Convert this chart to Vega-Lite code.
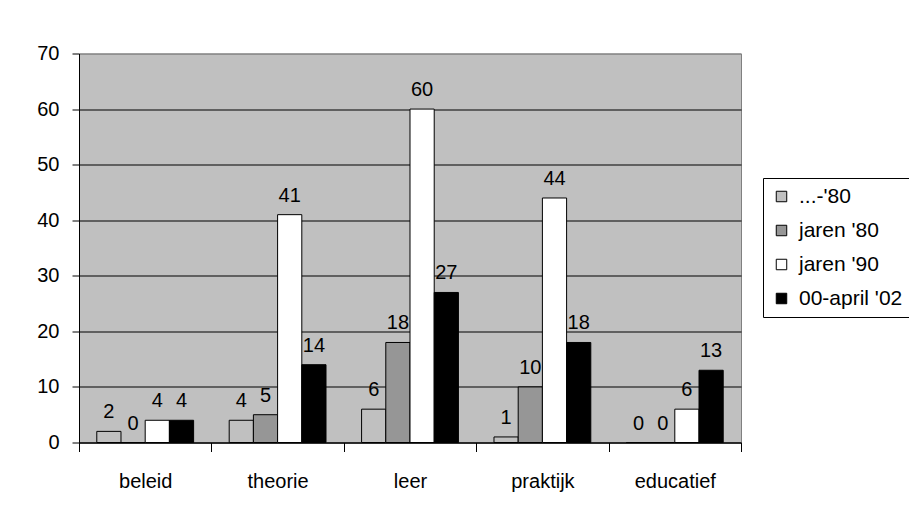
{
  "$schema": "https://vega.github.io/schema/vega-lite/v6.json",
  "width": 662,
  "height": 389,
  "autosize": {"type": "none"},
  "padding": {"left": 79, "top": 53.5, "right": 168, "bottom": 68.5},
  "background": "white",
  "data": {
    "values": [
      {"category": "beleid", "series": "...-'80", "value": 2},
      {"category": "beleid", "series": "jaren '80", "value": 0},
      {"category": "beleid", "series": "jaren '90", "value": 4},
      {"category": "beleid", "series": "00-april '02", "value": 4},
      {"category": "theorie", "series": "...-'80", "value": 4},
      {"category": "theorie", "series": "jaren '80", "value": 5},
      {"category": "theorie", "series": "jaren '90", "value": 41},
      {"category": "theorie", "series": "00-april '02", "value": 14},
      {"category": "leer", "series": "...-'80", "value": 6},
      {"category": "leer", "series": "jaren '80", "value": 18},
      {"category": "leer", "series": "jaren '90", "value": 60},
      {"category": "leer", "series": "00-april '02", "value": 27},
      {"category": "praktijk", "series": "...-'80", "value": 1},
      {"category": "praktijk", "series": "jaren '80", "value": 10},
      {"category": "praktijk", "series": "jaren '90", "value": 44},
      {"category": "praktijk", "series": "00-april '02", "value": 18},
      {"category": "educatief", "series": "...-'80", "value": 0},
      {"category": "educatief", "series": "jaren '80", "value": 0},
      {"category": "educatief", "series": "jaren '90", "value": 6},
      {"category": "educatief", "series": "00-april '02", "value": 13}
    ]
  },
  "encoding": {
    "x": {
      "field": "category",
      "type": "nominal",
      "sort": ["beleid", "theorie", "leer", "praktijk", "educatief"],
      "scale": {"paddingInner": 0, "paddingOuter": 0},
      "title": null,
      "axis": {
        "labelAngle": 0,
        "tickBand": "extent",
        "tickSize": 9,
        "tickColor": "black",
        "domainColor": "black",
        "labelPadding": 20,
        "labelFontSize": 20,
        "labelFont": "Liberation Sans",
        "labelColor": "black",
        "grid": false
      }
    },
    "xOffset": {
      "field": "series",
      "type": "nominal",
      "sort": ["...-'80", "jaren '80", "jaren '90", "00-april '02"],
      "scale": {"paddingInner": 0, "paddingOuter": 0.735}
    },
    "y": {
      "field": "value",
      "type": "quantitative",
      "scale": {"domain": [0, 70], "nice": false},
      "title": null,
      "axis": {
        "values": [0, 10, 20, 30, 40, 50, 60, 70],
        "grid": true,
        "gridColor": {"condition": {"test": "datum.value === 70", "value": "#808080"}, "value": "black"},
        "gridOpacity": 1,
        "gridWidth": 1,
        "tickSize": 7,
        "tickColor": "black",
        "domainColor": "black",
        "labelPadding": 13,
        "labelFontSize": 20,
        "labelFont": "Liberation Sans",
        "labelColor": "black"
      }
    }
  },
  "layer": [
    {
      "mark": {"type": "bar", "stroke": "black", "strokeWidth": 1},
      "encoding": {
        "color": {
          "field": "series",
          "type": "nominal",
          "sort": ["...-'80", "jaren '80", "jaren '90", "00-april '02"],
          "scale": {
            "domain": ["...-'80", "jaren '80", "jaren '90", "00-april '02"],
            "range": ["#c0c0c0", "#969696", "#ffffff", "#000000"]
          },
          "legend": {
            "title": null,
            "orient": "none",
            "legendX": 684,
            "legendY": 124.5,
            "strokeColor": "black",
            "fillColor": "white",
            "padding": 8,
            "rowPadding": 12,
            "symbolType": "square",
            "symbolSize": 110,
            "symbolStrokeColor": "black",
            "symbolStrokeWidth": 1,
            "labelOffset": 7,
            "labelFontSize": 21,
            "labelFont": "Liberation Sans",
            "labelColor": "black"
          }
        }
      }
    },
    {
      "mark": {"type": "text", "baseline": "alphabetic", "align": "center", "dy": -13, "fontSize": 20, "font": "Liberation Sans", "color": "black"},
      "encoding": {"text": {"field": "value", "type": "quantitative"}}
    }
  ],
  "config": {
    "view": {"fill": "#c0c0c0", "stroke": "#808080", "strokeWidth": 1}
  }
}
